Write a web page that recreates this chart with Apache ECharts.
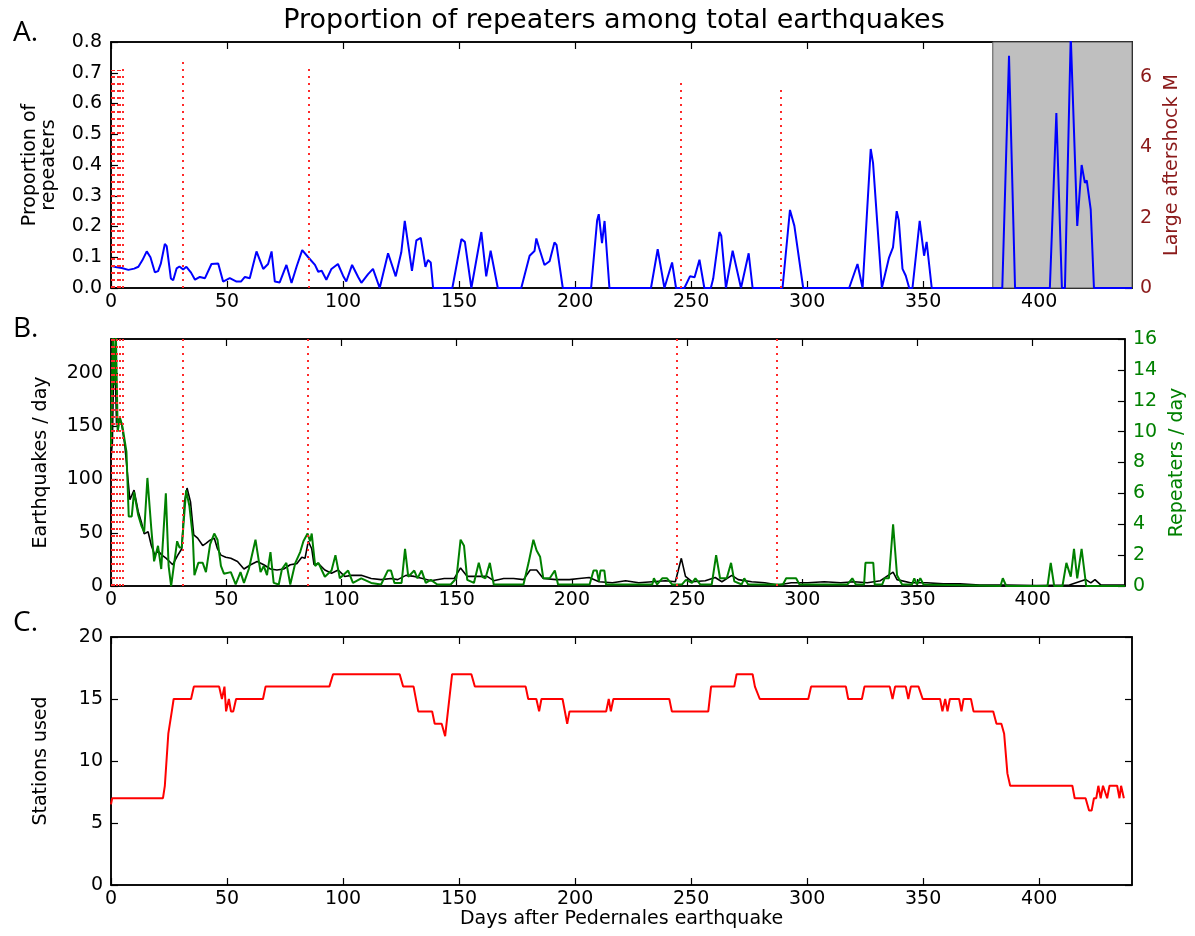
<!DOCTYPE html>
<html>
<head>
<meta charset="utf-8">
<script src="https://cdn.jsdelivr.net/npm/echarts@6/dist/echarts.min.js"></script>
<style>html,body{margin:0;padding:0;background:#fff}#c{width:1195px;height:936px}</style>
</head>
<body>
<div id="c"></div>
<script>
// ---- tick labels ----
const xTicks = [0, 50, 100, 150, 200, 250, 300, 350, 400];
const propTicks = [0, 0.1, 0.2, 0.3, 0.4, 0.5, 0.6, 0.7, 0.8];
const magTicks = [0, 2, 4, 6];
const eqTicks = [0, 50, 100, 150, 200];
const repTicks = [0, 2, 4, 6, 8, 10, 12, 14, 16];
const stationTicks = [0, 5, 10, 15, 20];

// ---- large aftershocks (day, magnitude) ----
const aftershockDays = [0.3, 1.4, 2.7, 3.9, 5.2, 31.0, 85.2, 245.7, 288.7];
const aftershockMag = [6.2, 6.2, 6.2, 6.2, 6.3, 6.5, 6.3, 5.9, 5.7];

// shaded period (days)
const shadedPeriod = [380, 440];

// ---- A: proportion of repeaters [day, value] ----
const proportion = [[0,0.072],[2,0.068],[4.6,0.065],[7.5,0.059],[10,0.063],[11.8,0.069],[13.5,0.09],[15.4,0.119],[17,0.1],[18.9,0.051],[20.3,0.055],[21.5,0.08],[23.2,0.143],[24,0.136],[25.8,0.031],[26.8,0.025],[28.3,0.064],[29.5,0.07],[31.1,0.06],[32.5,0.069],[34.5,0.05],[36.2,0.027],[38.3,0.036],[40.5,0.032],[43.3,0.078],[46.2,0.08],[48.3,0.021],[51.2,0.032],[54.1,0.021],[56,0.021],[57.7,0.036],[59.8,0.032],[62.7,0.119],[65.6,0.062],[67.7,0.078],[69.2,0.119],[70.6,0.021],[72.7,0.018],[75.6,0.075],[77.8,0.016],[80,0.07],[82.4,0.123],[85,0.1],[87.9,0.075],[89.3,0.053],[90.8,0.056],[92.8,0.027],[95,0.062],[97.8,0.078],[100,0.04],[101.4,0.021],[103.9,0.075],[106.5,0.036],[107.9,0.017],[110.8,0.045],[112.9,0.062],[115.8,0],[119.4,0.113],[122.7,0.038],[125.1,0.116],[126.6,0.218],[129.7,0.056],[131.6,0.155],[133.5,0.163],[135.5,0.069],[136.6,0.091],[137.8,0.083],[138.8,0],[147.1,0],[151,0.159],[152.5,0.15],[155.3,0],[159.6,0.182],[161.7,0.038],[163.6,0.121],[166.7,0],[176.8,0],[180.4,0.105],[182.5,0.12],[183.3,0.161],[184.5,0.13],[186.8,0.075],[189,0.087],[191.1,0.148],[192,0.14],[194.7,0],[206.9,0],[209.5,0.22],[210.2,0.24],[211.6,0.146],[212.7,0.218],[214.8,0],[232.7,0],[235.6,0.126],[238.5,0],[241.8,0.083],[243.5,0],[247.1,0],[249.5,0.038],[251.5,0.035],[253.6,0.092],[255.7,0],[258.5,0],[259.5,0.03],[262.2,0.182],[263,0.17],[265,0],[267.9,0.121],[271.5,0],[274.8,0.113],[276.5,0],[289.4,0],[292.6,0.254],[294.5,0.202],[298.3,0],[318.1,0],[321.7,0.078],[323.9,0],[327.4,0.452],[328.4,0.407],[332.2,0],[335.3,0.099],[337,0.132],[338.6,0.25],[339.5,0.22],[341.1,0.062],[342.5,0.04],[344,0],[345.4,0],[348.5,0.218],[350.4,0.105],[351.5,0.15],[353.7,0],[384.1,0],[387,0.755],[389.6,0],[404.6,0],[407.4,0.569],[409.8,0],[411.1,0],[413.6,0.82],[416.4,0.202],[418.3,0.4],[419.7,0.342],[420.5,0.35],[422.2,0.256],[423.6,0],[440,0]];

// ---- B: earthquakes per day [day, count] ----
const quakesPerDay = [[0,120],[0.6,135],[0.9,173],[1.4,225],[1.9,200],[2.4,151],[3.4,157],[4.5,154],[6,132],[7.2,104],[8.2,81],[10,90],[11.8,70],[13.2,60],[14.4,49],[16.1,51],[17.5,38],[19,29],[20.4,33],[22.1,29],[24,26],[25.4,23],[26.8,20],[29,29],[30.7,35],[31.9,79],[33,92],[34.5,79],[35.9,48],[37.6,45],[39.8,38],[41.2,40],[43,43],[44.8,45],[46.2,35],[47.7,29],[49.8,27],[52,26],[54.9,23],[57.7,16],[60.6,20],[63.4,23],[66.3,20],[69.2,16],[72,15],[74.9,16],[77.8,20],[80.6,21],[82.8,27],[84.2,26],[85.6,42],[87.1,35],[88.1,20],[90,21],[92.8,15],[95.7,12],[98.6,15],[101.4,9],[104.3,10],[108.6,10],[112.9,7],[117.2,6],[121.5,7],[124.4,6],[128,10],[131.6,9],[135.2,7],[138.8,5],[144.6,7],[148.9,7],[151.7,17],[154.6,9],[158.9,9],[163.2,9],[166.1,5],[170.4,7],[174.7,7],[179,6],[181.9,15],[184.7,15],[187.6,7],[193.2,6],[198.9,6],[203.2,7],[207.5,8],[211.8,4],[217.6,3],[223.3,5],[229,3],[234.9,4],[240.6,5],[244.9,4],[247.5,26],[249.3,9],[252.1,4],[257.9,5],[262.2,8],[265.1,4],[269.4,10],[272.2,6],[278,4],[283.7,3],[289.5,1],[295.2,3],[302.4,3],[309.5,4],[316.7,3],[322.5,4],[328.2,3],[333.9,5],[339.4,13],[341.1,6],[346.9,3],[354,3],[361.2,2],[368.4,2],[377,1],[388.6,1],[401.5,0.5],[415.9,1],[423,6],[425.2,3],[427,6],[429.5,1],[440,1]];

// ---- B: repeaters per day [day, count] ----
const repeatersPerDay = [[0,9],[0.8,16.5],[1.5,13],[2.1,16.5],[2.9,10],[3.9,10.9],[5,10.3],[6.7,8.7],[7.7,4.5],[9,4.5],[10,6.1],[11.8,4.6],[13.2,3.9],[14.4,3.5],[15.8,7.0],[17.5,3.7],[18.7,1.6],[20.4,2.6],[21.8,1.1],[23.8,6.0],[25,1.3],[26.1,0],[28.7,2.9],[29.7,2.5],[30.7,2.5],[32.6,6.2],[34,5.2],[35.5,3.2],[36.2,0.7],[37.9,1.5],[39.8,1.5],[41.2,0.9],[43,2.7],[44.8,3.4],[46.2,3.0],[47.7,1.3],[49,0.8],[52,0.9],[54.1,0.1],[56.2,0.9],[57.7,0.2],[59.8,1.1],[62.7,3.0],[64.9,0.9],[66.3,1.3],[67.7,0.7],[69.2,2.2],[70.6,0.2],[72.8,0.1],[74.2,1.1],[76.1,1.5],[77.8,0.1],[80,1.5],[82.1,2.2],[83.5,2.9],[85.3,3.4],[86.4,2.9],[87.1,3.4],[88.6,1.3],[90,1.5],[92.8,0.6],[95.7,1.0],[97.4,2.0],[99.3,0.5],[102.9,1.0],[105,0.2],[108.6,0.5],[112.9,0.2],[117.2,0.1],[120.1,1.0],[121.5,1.0],[123,0.2],[126.1,0.2],[127.6,2.4],[129,0.6],[131.6,1.0],[133,0.5],[134.8,1.0],[136.6,0.2],[138.8,0.4],[141.6,0.1],[147.4,0.1],[149.9,0.5],[151.7,3.0],[153.2,2.6],[154.6,0.4],[157.5,0.2],[159.6,1.5],[161.1,0.6],[162.5,0.5],[164.4,1.5],[166.1,0.1],[179,0.1],[181.2,1.5],[183.3,3.0],[184.7,2.3],[186.2,1.9],[187.6,0.5],[190.4,0.5],[192.6,1.0],[194,0.1],[207.7,0.1],[209.4,1.0],[210.8,1.0],[211.7,0.3],[212.4,1.0],[214.1,1.0],[214.8,0.1],[234.9,0.1],[235.6,0.5],[237,0.1],[239.2,0.5],[241.3,0.5],[243.5,0.1],[247.8,0.1],[249.5,0.4],[252.1,0.2],[253.6,0.5],[255.7,0.1],[260.7,0.1],[262.6,2.0],[264.3,0.5],[267.2,0.5],[269.1,1.5],[270.5,0.3],[273.7,0.1],[274.8,0.5],[276.5,0.1],[291.6,0.1],[293,0.5],[297.3,0.5],[298.8,0.1],[319.6,0.1],[321.7,0.5],[323.2,0.1],[326.8,0.1],[327.4,1.5],[330.8,1.5],[331.4,0.1],[334.7,0.1],[335.7,0.5],[337.6,0.5],[339.4,4.0],[341.1,0.7],[343.3,0.1],[347.6,0.1],[348.6,0.5],[349.7,0.1],[351.2,0.5],[352.6,0.1],[386,0],[387,0.5],[388.5,0],[406.4,0],[407.8,1.5],[409.3,0],[412.9,0],[414.6,1.5],[416.5,0.6],[417.9,2.4],[419.3,0.5],[421.2,2.4],[423.2,0],[440,0]];

// ---- C: stations used [day, count] ----
const stationsUsed = [[0,6.5],[0.5,7],[22.4,7],[23.2,8],[24.7,12.2],[26.2,14],[27,15],[34.5,15],[35.7,16],[46.6,16],[47.8,15],[48.9,16],[49.6,14],[50.8,15],[51.7,14],[52.7,14],[53.9,15],[65.5,15],[66.6,16],[94.1,16],[95.7,17],[124.4,17],[125.9,16],[130.4,16],[132.4,14],[138.4,14],[139.5,13],[142.5,13],[144,12],[144.7,12],[147,17],[155.3,17],[156.8,16],[178.7,16],[179.8,15],[183.3,15],[184.5,14],[185.5,15],[194.6,15],[196.6,13],[197.6,14],[213.4,14],[214.5,15],[215.4,14],[216.5,15],[240.6,15],[241.7,14],[257.4,14],[258.6,16],[268.6,16],[269.6,17],[276.5,17],[277.5,16],[278.2,16],[279.6,15],[300.5,15],[301.7,16],[316.7,16],[317.7,15],[323.6,15],[324.7,16],[335.6,16],[336.8,15],[337.9,16],[342.5,16],[343.6,15],[344.7,16],[348,16],[349.8,15],[357.3,15],[358.3,14],[359.5,15],[360.5,14],[361.5,15],[365.5,15],[366.5,14],[367.4,15],[370.6,15],[371.7,14],[380.2,14],[381.6,13],[383.7,13],[384.9,12.2],[386.3,9],[387.5,8],[414.3,8],[415.3,7],[420,7],[421.5,6],[422.6,6],[423.6,7],[424.6,7],[425.5,8],[426.5,7],[427.5,8],[429.3,7],[430.3,8],[433.6,8],[434.6,7],[435.3,8],[436.5,7]];

const F = 'DejaVu Sans';
const DARKRED = '#8b1a1a';
const GREEN = '#008000';
const FS = 19;

function xAx(grid, pos, labels, extra) {
  return Object.assign({
    type: 'value', gridIndex: grid, position: pos, min: 0, max: 440,
    axisLine: { show: true, onZero: false, lineStyle: { color: '#000', width: 1.5 } },
    axisTick: { show: true, inside: true, length: 7, customValues: xTicks, lineStyle: { color: '#000', width: 1.2 } },
    axisLabel: { show: labels, customValues: xTicks, margin: 5, color: '#000', fontSize: FS, fontFamily: F },
    splitLine: { show: false }
  }, extra || {});
}
function yAx(grid, pos, max, ticks, labelColor, showLabels, extra) {
  return Object.assign({
    type: 'value', gridIndex: grid, position: pos, min: 0, max: max,
    axisLine: { show: true, onZero: false, lineStyle: { color: '#000', width: 1.5 } },
    axisTick: { show: true, inside: true, length: 7, customValues: ticks, lineStyle: { color: '#000', width: 1.2 } },
    axisLabel: { show: showLabels, customValues: ticks, margin: 8, color: labelColor, fontSize: FS, fontFamily: F },
    splitLine: { show: false },
    nameLocation: 'middle', nameRotate: 90,
    nameTextStyle: { fontSize: FS, fontFamily: F, color: labelColor }
  }, extra || {});
}

const gridBox = { show: true, borderColor: '#000', borderWidth: 1.5, backgroundColor: 'transparent' };

const option = {
  animation: false,
  backgroundColor: '#fff',
  grid: [
    Object.assign({ left: 111, top: 42, width: 1021, height: 246 }, gridBox),
    Object.assign({ left: 111, top: 339, width: 1021, height: 247 }, gridBox),
    Object.assign({ left: 111, top: 637, width: 1021, height: 248 }, gridBox)
  ],
  xAxis: [
    xAx(0, 'bottom', true),
    xAx(0, 'top', false),
    xAx(1, 'bottom', true),
    xAx(1, 'top', false),
    xAx(2, 'bottom', true, {
      name: 'Days after Pedernales earthquake', nameLocation: 'middle', nameGap: 23,
      nameTextStyle: { fontSize: FS, fontFamily: F, color: '#000' }
    }),
    xAx(2, 'top', false)
  ],
  yAxis: [
    yAx(0, 'left', 0.8, propTicks, '#000', true, {
      name: 'Proportion of\nrepeaters', nameGap: 52,
      axisLabel: { customValues: propTicks, margin: 9, color: '#000', fontSize: FS, fontFamily: F, formatter: v => v.toFixed(1) }
    }),
    yAx(0, 'right', 7, magTicks, DARKRED, true, { name: 'Large aftershock M', nameGap: 25 }),
    yAx(1, 'left', 232, eqTicks, '#000', true, { name: 'Earthquakes / day', nameGap: 60 }),
    yAx(1, 'right', 16, repTicks, GREEN, true, { name: 'Repeaters / day', nameGap: 38 }),
    yAx(2, 'left', 20, stationTicks, '#000', true, { name: 'Stations used', nameGap: 60 }),
    yAx(2, 'right', 20, stationTicks, '#000', false)
  ],
  series: [
    {
      type: 'line', xAxisIndex: 0, yAxisIndex: 0, data: proportion, symbol: 'none',
      lineStyle: { color: '#0000ff', width: 2 }, clip: true, z: 3,
      markArea: {
        silent: true,
        itemStyle: { color: '#bfbfbf', borderColor: '#555', borderWidth: 1 },
        data: [[{ xAxis: shadedPeriod[0] }, { xAxis: shadedPeriod[1] }]]
      }
    },
    {
      type: 'lines', coordinateSystem: 'cartesian2d', xAxisIndex: 0, yAxisIndex: 1, z: 4,
      lineStyle: { color: '#ff2a2a', width: 2, type: [2, 5], opacity: 1 },
      data: aftershockDays.map((d, i) => ({ coords: [[d, 0], [d, aftershockMag[i]]] }))
    },
    {
      type: 'line', xAxisIndex: 2, yAxisIndex: 2, data: quakesPerDay, symbol: 'none',
      lineStyle: { color: '#000', width: 1.6 }, clip: true, z: 3
    },
    {
      type: 'line', xAxisIndex: 2, yAxisIndex: 3, data: repeatersPerDay, symbol: 'none',
      lineStyle: { color: GREEN, width: 2 }, clip: true, z: 4
    },
    {
      type: 'lines', coordinateSystem: 'cartesian2d', xAxisIndex: 2, yAxisIndex: 3, z: 5,
      lineStyle: { color: '#ff2a2a', width: 2, type: [2, 5], opacity: 1 },
      data: aftershockDays.map(d => ({ coords: [[d, 0], [d, repTicks[repTicks.length - 1]]] }))
    },
    {
      type: 'line', xAxisIndex: 4, yAxisIndex: 4, data: stationsUsed, symbol: 'none',
      lineStyle: { color: '#ff0000', width: 2 }, clip: true, z: 3
    }
  ],
  graphic: [
    { type: 'text', x: 614, y: 21, style: { text: 'Proportion of repeaters among total earthquakes', font: '27px "DejaVu Sans"', fill: '#000', align: 'center', verticalAlign: 'middle' } },
    { type: 'text', left: 13, top: 19, style: { text: 'A.', font: '28px "Open Sans"', fill: '#000' } },
    { type: 'text', left: 13, top: 315, style: { text: 'B.', font: '28px "Open Sans"', fill: '#000' } },
    { type: 'text', left: 13, top: 609, style: { text: 'C.', font: '28px "Open Sans"', fill: '#000' } }
  ]
};

const chart = echarts.init(document.getElementById('c'), null, { renderer: 'canvas' });
chart.setOption(option);
</script>
</body>
</html>
